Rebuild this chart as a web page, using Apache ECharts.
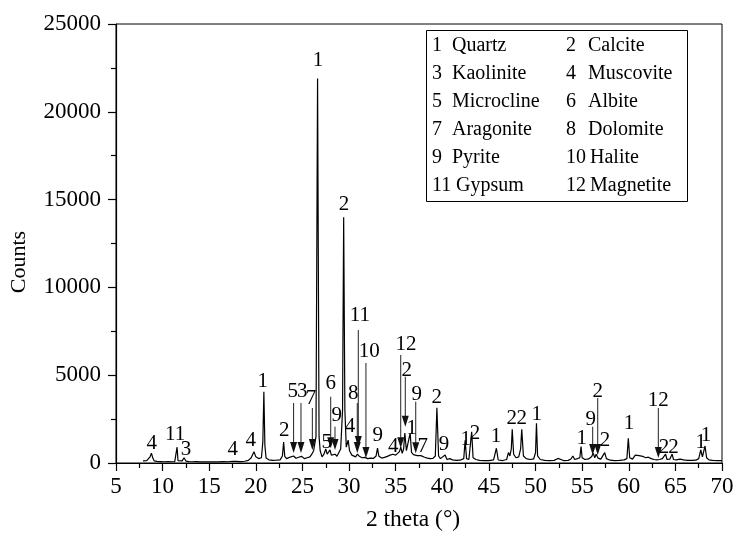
<!DOCTYPE html>
<html>
<head>
<meta charset="utf-8">
<script src="https://cdn.jsdelivr.net/npm/echarts@6/dist/echarts.min.js"></script>
<style>
  html, body { margin: 0; padding: 0; background: #fff; }
  #chart { width: 737px; height: 538px; }
</style>
</head>
<body>
<div id="chart"></div>
<script>
// XRD pattern: diffraction angle (2θ, degrees) and intensity (counts)
const twoTheta = [
  7.9, 8.1, 8.3, 8.5, 8.65, 8.8, 8.95, 9.1, 9.4, 9.8, 10.2, 10.6, 11.0, 11.3, 11.45, 11.55, 11.65, 11.8,
  12.1, 12.3, 12.5, 12.8, 13.2, 13.6, 14.0, 14.5, 15.0, 15.5, 16.0, 16.5, 17.0, 17.5, 17.7, 17.9,
  18.3, 18.8, 19.2, 19.5, 19.8, 20.0, 20.3, 20.6, 20.75, 20.86, 20.97, 21.1, 21.4, 21.8, 22.2, 22.6,
  22.85, 22.98, 23.1, 23.3, 23.6, 23.8, 24.05, 24.3, 24.6, 24.9, 25.2, 25.5, 25.8, 26.0, 26.2, 26.45,
  26.62, 26.78, 26.9, 27.1, 27.3, 27.5, 27.65, 27.8, 27.95, 28.1, 28.3, 28.5, 28.7, 28.9, 29.1, 29.3,
  29.42, 29.55, 29.7, 29.9, 30.05, 30.3, 30.5, 30.7, 30.9, 31.1, 31.4, 31.7, 32.0, 32.3, 32.6, 32.9,
  33.05, 33.2, 33.5, 33.8, 34.1, 34.4, 34.7, 35.0, 35.2, 35.4, 35.55, 35.7, 35.85, 35.98, 36.15, 36.35,
  36.55, 36.7, 36.9, 37.1, 37.3, 37.5, 37.7, 37.9, 38.1, 38.4, 38.7, 39.0, 39.25, 39.42, 39.6, 39.8,
  40.0, 40.3, 40.5, 40.8, 41.1, 41.5, 41.9, 42.3, 42.45, 42.6, 42.85, 43.0, 43.15, 43.3, 43.6, 44.0,
  44.5, 45.0, 45.5, 45.8, 46.0, 46.5, 46.9, 47.1, 47.25, 47.4, 47.5, 47.65, 47.9, 48.2, 48.4, 48.52,
  48.7, 49.0, 49.4, 49.8, 50.0, 50.1, 50.22, 50.5, 51.0, 51.5, 52.0, 52.4, 52.6, 53.0, 53.5, 53.8,
  54.0, 54.2, 54.5, 54.75, 54.88, 55.0, 55.3, 55.7, 56.0, 56.2, 56.35, 56.5, 56.7, 57.0, 57.2, 57.42,
  57.6, 58.0, 58.5, 59.0, 59.5, 59.8, 59.95, 60.1, 60.4, 60.7, 60.9, 61.1, 61.3, 61.5, 61.8, 62.1,
  62.4, 62.7, 63.0, 63.3, 63.6, 63.8, 63.95, 64.1, 64.4, 64.65, 64.8, 65.1, 65.5, 65.7, 65.9, 66.3,
  66.8, 67.2, 67.5, 67.72, 67.9, 68.05, 68.18, 68.35, 68.6, 69.0, 69.5, 70.0
];
const counts = [
  120, 140, 130, 200, 350, 560, 280, 120, 90, 80, 70, 80, 70, 80, 150, 900, 140, 90,
  120, 300, 110, 80, 70, 80, 60, 70, 60, 70, 60, 80, 70, 100, 200, 90,
  80, 100, 150, 300, 640, 350, 250, 300, 1200, 4050, 1000, 280, 180, 150, 160, 180,
  400, 1200, 380, 250, 320, 230, 400, 270, 330, 380, 250, 300, 350, 500, 700, 1500,
  21900, 1500, 700, 350, 500, 800, 500, 600, 750, 450, 350, 500, 380, 420, 800, 3000,
  14000, 3000, 900, 1300, 700, 450, 400, 350, 500, 380, 300, 320, 250, 280, 260, 400,
  850, 380, 280, 320, 380, 450, 500, 450, 550, 650, 900, 550, 800, 1700, 700, 600,
  1700, 600, 480, 550, 420, 380, 420, 450, 330, 280, 250, 260, 400, 3150, 400, 250,
  230, 450, 200, 250, 180, 150, 160, 250, 1300, 250, 200, 300, 1780, 300, 200, 150,
  130, 140, 180, 840, 170, 140, 200, 600, 400, 800, 1920, 500, 300, 350, 800, 1920,
  400, 250, 200, 230, 600, 2260, 400, 200, 150, 140, 150, 260, 150, 140, 150, 230,
  400, 200, 250, 300, 930, 300, 200, 230, 350, 550, 300, 500, 280, 220, 300, 590,
  250, 160, 140, 150, 180, 250, 1400, 300, 220, 450, 350, 420, 330, 380, 300, 330,
  250, 200, 180, 200, 250, 200, 510, 200, 220, 510, 200, 180, 220, 300, 180, 150,
  150, 160, 250, 740, 350, 450, 970, 300, 180, 150, 140, 140
];

// Phase key: number -> mineral
const phaseNames = [
  'Quartz', 'Calcite', 'Kaolinite', 'Muscovite', 'Microcline', 'Albite',
  'Aragonite', 'Dolomite', 'Pyrite', 'Halite', 'Gypsum', 'Magnetite'
];

// Peak tags: [phase number, 2θ, counts] at the centre of each tag
const peakTags = [
  ['4', 8.83, 1139], ['11', 11.33, 1652], ['3', 12.51, 797], ['4', 17.52, 797],
  ['4', 19.45, 1310], ['1', 20.74, 4670], ['2', 23.05, 1851], ['5', 23.96, 4072],
  ['3', 24.97, 4072], ['7', 25.92, 3702], ['1', 26.67, 22894], ['5', 27.60, 1167],
  ['6', 28.03, 4539], ['9', 28.67, 2700], ['2', 29.46, 14750], ['4', 30.10, 2079],
  ['8', 30.45, 3950], ['11', 31.17, 8400], ['10', 32.17, 6350], ['9', 33.07, 1595],
  ['4', 34.74, 940], ['12', 36.11, 6777], ['2', 36.18, 5296], ['1', 36.72, 1976],
  ['9', 37.25, 3884], ['7', 37.90, 940], ['2', 39.40, 3730], ['9', 40.18, 1036],
  ['1', 42.51, 1321], ['2', 43.51, 1691], ['1', 45.76, 1498], ['2', 47.44, 2546],
  ['2', 48.52, 2546], ['1', 50.12, 2745], ['1', 54.95, 1407], ['9', 55.92, 2460],
  ['2', 56.67, 4060], ['2', 57.45, 1310], ['1', 60.02, 2261], ['12', 63.17, 3548],
  ['2', 63.78, 883], ['2', 64.80, 883], ['1', 67.71, 1167], ['1', 68.28, 1595]
];

// Pointer arrows: [2θ, start counts, tip counts]
const pointers = [
  [24.05, 3417, 570], [24.84, 3417, 570], [26.06, 3130, 740], [28.03, 3775, 837],
  [28.49, 2067, 740], [30.88, 3417, 570], [30.99, 7574, 911], [31.81, 5695, 285],
  [35.54, 6150, 837], [36.03, 4915, 2067], [37.15, 3490, 552], [56.13, 2067, 456],
  [56.67, 3700, 456], [63.17, 3132, 285]
];

const SERIF = '"Liberation Serif", "Times New Roman", Times, serif';

const chart = echarts.init(document.getElementById('chart'), null, { renderer: 'canvas' });

// Key box with two columns of numbered phases
const overlay = [{
  type: 'rect',
  shape: { x: 426.5, y: 30.5, width: 261, height: 171 },
  style: { fill: '#fff', stroke: '#000', lineWidth: 1 }
}];
phaseNames.forEach((name, i) => {
  const col = i % 2;
  const row = Math.floor(i / 2);
  const y = 46 + row * 28;
  const num = String(i + 1);
  const numX = col === 0 ? 432 : 566;
  const nameX = num.length > 1 ? numX + 24 : numX + (col === 0 ? 20 : 22);
  overlay.push({
    type: 'text', x: numX, y: y,
    style: { text: num, fill: '#000', fontSize: 20, fontFamily: SERIF, align: 'left', verticalAlign: 'middle' }
  });
  overlay.push({
    type: 'text', x: nameX, y: y,
    style: { text: name, fill: '#000', fontSize: 20, fontFamily: SERIF, align: 'left', verticalAlign: 'middle' }
  });
});

// Axis titles
overlay.push({
  type: 'text', x: 413, y: 520,
  style: { text: '2 theta (°)', fill: '#000', fontSize: 23.5, fontFamily: SERIF, align: 'center', verticalAlign: 'middle' }
});
overlay.push({
  type: 'text', x: 19, y: 262, rotation: Math.PI / 2,
  style: { text: 'Counts', fill: '#000', fontSize: 22, fontFamily: SERIF, align: 'center', verticalAlign: 'middle' }
});

const option = {
  animation: false,
  backgroundColor: '#fff',
  grid: {
    left: 116, right: 15, top: 24, bottom: 75,
    show: true, borderColor: '#000', borderWidth: 1, backgroundColor: 'transparent'
  },
  xAxis: {
    type: 'value', min: 5, max: 70, interval: 5,
    axisLine: { lineStyle: { color: '#000', width: 1.2 } },
    axisTick: { length: 8, inside: false, lineStyle: { color: '#000', width: 1.2 } },
    minorTick: { show: true, splitNumber: 2, length: 5, lineStyle: { color: '#000', width: 1.2 } },
    axisLabel: { fontSize: 23, fontFamily: SERIF, color: '#000', margin: 12 },
    splitLine: { show: false }
  },
  yAxis: {
    type: 'value', min: 0, max: 25000, interval: 5000,
    axisLine: { show: true, lineStyle: { color: '#000', width: 1.2 } },
    axisTick: { show: true, length: 8, inside: false, lineStyle: { color: '#000', width: 1.2 } },
    minorTick: { show: true, splitNumber: 2, length: 5, lineStyle: { color: '#000', width: 1.2 } },
    axisLabel: { fontSize: 23, fontFamily: SERIF, color: '#000', margin: 15, formatter: v => String(v) },
    splitLine: { show: false }
  },
  graphic: overlay,
  series: [
    {
      type: 'line',
      data: twoTheta.map((x, i) => [x, counts[i]]),
      showSymbol: false,
      sampling: 'none',
      lineStyle: { color: '#000', width: 1.2 },
      silent: true,
      z: 3
    },
    {
      type: 'custom',
      data: pointers.map(p => [p[0], p[1], p[2]]),
      encode: { x: 0, y: [1, 2] },
      silent: true,
      z: 4,
      renderItem(params, api) {
        const x = api.value(0);
        const top = api.coord([x, api.value(1)]);
        const tip = api.coord([x, api.value(2)]);
        const headLen = 11, headHalf = 3.5;
        return {
          type: 'group',
          children: [
            {
              type: 'line',
              shape: { x1: top[0], y1: top[1], x2: tip[0], y2: tip[1] - headLen + 1 },
              style: { stroke: '#222', lineWidth: 1 }
            },
            {
              type: 'polygon',
              shape: { points: [[tip[0] - headHalf, tip[1] - headLen], [tip[0] + headHalf, tip[1] - headLen], [tip[0], tip[1]]] },
              style: { fill: '#111' }
            }
          ]
        };
      }
    },
    {
      type: 'custom',
      data: peakTags.map(t => [t[1], t[2]]),
      encode: { x: 0, y: 1 },
      silent: true,
      z: 5,
      renderItem(params, api) {
        const p = api.coord([api.value(0), api.value(1)]);
        return {
          type: 'text',
          x: p[0], y: p[1],
          style: {
            text: peakTags[params.dataIndex][0],
            fill: '#000', fontSize: 21, fontFamily: SERIF,
            align: 'center', verticalAlign: 'middle'
          }
        };
      }
    }
  ]
};

chart.setOption(option);
</script>
</body>
</html>
